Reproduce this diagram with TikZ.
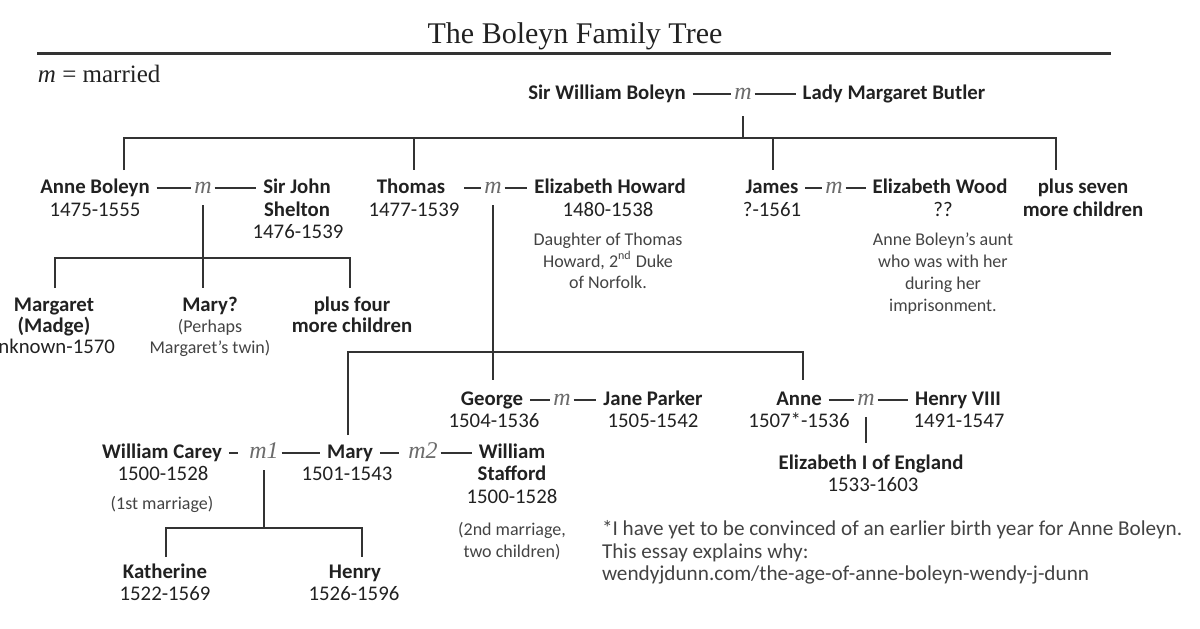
\documentclass[tikz,border=0pt]{standalone}
\usepackage{fontspec}
\setmainfont{Carlito}
\newfontfamily\serifont{Liberation Serif}
\usepackage{tikz}
\usetikzlibrary{positioning}
\definecolor{ink}{gray}{0.13}
\definecolor{wire}{gray}{0.2}
\definecolor{wedgray}{gray}{0.42}
\tikzset{
  every picture/.style = {
    line width = 1pt,
    draw = wire,
  }
  , % people on the tree
  person/.style = {
    anchor = base,
    font = \fontsize{10.4}{12}\selectfont\bfseries,
    text = ink,
    text height = 7.5pt,
    text depth = 2.5pt,
    inner xsep = 3pt,
    inner ysep = 1pt
  }
  , % life dates
  years/.style = {
    person,
    font = \fontsize{10.4}{12}\selectfont
  }
  , % small notes under a person
  remark/.style = {
    anchor = base,
    font = \fontsize{9}{11}\selectfont,
    text = ink!85,
    inner sep = 0pt
  }
  , % footnote lines
  footline/.style = {
    remark,
    anchor = base west,
    font = \fontsize{10.6}{12.5}\selectfont
  }
  , % the italic m between two partners
  wed/.style = {
    anchor = base,
    font = \serifont\itshape\fontsize{12}{14}\selectfont,
    text = wedgray,
    text height = 7.5pt,
    text depth = 2.5pt,
    inner xsep = 1pt,
    inner ysep = 3pt
  }
  , % dash between partners
  wedline/.style = {
    draw = wire,
    line width = 0.7pt
  }
  , % lines down to the children
  descent/.style = {
    draw = wire,
    line width = 1pt
  }
}

\begin{document}
\begin{tikzpicture}[x=0.5pt, y=-0.5pt]
		\useasboundingbox (0,0) rectangle (1200,628);
		% heading
		\node at (575,43) [anchor=base, font=\serifont\fontsize{15}{18}\selectfont, text=ink] (title) {The Boleyn Family Tree};
		\coordinate (ruleL) at (37,53);
		\coordinate (ruleR) at (1111,53);
		\draw [line width=1.5pt] (ruleL) -- (ruleR);
		\node at (37,82) [anchor=base west, inner sep=0pt, font=\serifont\fontsize{12.5}{14}\selectfont, text=ink] (key) {\textit{m} = married};

		% generation 0
		\node at (607,99) [person] (sirw) {Sir William Boleyn};
		\node at (743,99) [wed] (m0) {m};
		\node at (894,99) [person] (lady) {Lady Margaret Butler};

		% generation 1
		\node at (95,193) [person] (anneb) {Anne Boleyn};
		\node at (95,216) [years] (anneb-y) {1475-1555};
		\node at (203,193) [wed] (mA) {m};
		\node at (297,193) [person] (shelton) {Sir John};
		\node at (297,216) [person] (shelton-2) {Shelton};
		\node at (298,238) [years] (shelton-y) {1476-1539};
		\node at (411,193) [person] (thomas) {Thomas};
		\node at (414,216) [years] (thomas-y) {1477-1539};
		\node at (493,193) [wed] (mT) {m};
		\node at (610,193) [person] (howard) {Elizabeth Howard};
		\node at (608,216) [years] (howard-y) {1480-1538};
		\node at (608,245) [remark] (howard-n1) {Daughter of Thomas};
		\node at (608,267) [remark] (howard-n2) {Howard, 2\textsuperscript{nd} Duke};
		\node at (608,288) [remark] (howard-n3) {of Norfolk.};
		\node at (772,193) [person] (james) {James};
		\node at (772,216) [years] (james-y) {?-1561};
		\node at (834,193) [wed] (mJ) {m};
		\node at (940,193) [person] (wood) {Elizabeth Wood};
		\node at (943,216) [years] (wood-y) {??};
		\node at (943,245) [remark] (wood-n1) {Anne Boleyn's aunt};
		\node at (943,267) [remark] (wood-n2) {who was with her};
		\node at (943,289) [remark] (wood-n3) {during her};
		\node at (943,311) [remark] (wood-n4) {imprisonment.};
		\node at (1083,193) [person] (plus7) {plus seven};
		\node at (1083,216) [person] (plus7-2) {more children};

		% children of Anne Boleyn and Sir John Shelton
		\node at (54,311) [person] (margaret) {Margaret};
		\node at (54,332) [person] (margaret-2) {(Madge)};
		\node at (50,353) [years] (margaret-y) {Unknown-1570};
		\node at (210,311) [person] (maryq) {Mary?};
		\node at (210,332) [remark] (maryq-n1) {(Perhaps};
		\node at (210,353) [remark] (maryq-n2) {Margaret's twin)};
		\node at (352,311) [person] (plus4) {plus four};
		\node at (352,332) [person] (plus4-2) {more children};

		% children of Thomas and Elizabeth Howard
		\node at (492,405) [person] (george) {George};
		\node at (494,427) [years] (george-y) {1504-1536};
		\node at (562,405) [wed] (mG) {m};
		\node at (653,405) [person] (jane) {Jane Parker};
		\node at (653,427) [years] (jane-y) {1505-1542};
		\node at (799,405) [person] (anne) {Anne};
		\node at (799,427) [years] (anne-y) {1507*-1536};
		\node at (866,405) [wed] (mH) {m};
		\node at (958,405) [person] (henry8) {Henry VIII};
		\node at (959,427) [years] (henry8-y) {1491-1547};
		\node at (871,469) [person] (eliz) {Elizabeth I of England};
		\node at (873,491) [years] (eliz-y) {1533-1603};

		\node at (162,458) [person] (carey) {William Carey};
		\node at (163,480) [years] (carey-y) {1500-1528};
		\node at (162,509) [remark] (carey-n) {(1st marriage)};
		\node at (264,458) [wed] (m1) {m1};
		\node at (350,458) [person] (mary) {Mary};
		\node at (347,480) [years] (mary-y) {1501-1543};
		\node at (423,458) [wed] (m2) {m2};
		\node at (512,458) [person] (stafford) {William};
		\node at (512,480) [person] (stafford-2) {Stafford};
		\node at (512,503) [years] (stafford-y) {1500-1528};
		\node at (512,535) [remark] (stafford-n1) {(2nd marriage,};
		\node at (512,557) [remark] (stafford-n2) {two children)};

		% children of Mary and William Carey
		\node at (165,578) [person] (katherine) {Katherine};
		\node at (165,600) [years] (katherine-y) {1522-1569};
		\node at (355,578) [person] (henry) {Henry};
		\node at (354,600) [years] (henry-y) {1526-1596};

		% footnote
		\node at (601,535) [footline] (foot1) {*I have yet to be convinced of an earlier birth year for Anne Boleyn.};
		\node at (601,558) [footline] (foot2) {This essay explains why:};
		\node at (601,580) [footline] (foot3) {wendyjdunn.com/the-age-of-anne-boleyn-wendy-j-dunn};

		% marriages
		\path (sirw) edge [wedline] (m0) (m0) edge [wedline] (lady);
		\path (anneb) edge [wedline] (mA) (mA) edge [wedline] (shelton);
		\path (thomas) edge [wedline, shorten <=6pt] (mT) (mT) edge [wedline] (howard);
		\path (james) edge [wedline] (mJ) (mJ) edge [wedline] (wood);
		\path (george) edge [wedline] (mG) (mG) edge [wedline] (jane);
		\path (anne) edge [wedline] (mH) (mH) edge [wedline] (henry8);
		\path (carey) edge [wedline, shorten >=4pt] (m1) (m1) edge [wedline] (mary);
		\path (mary) edge [wedline, shorten >=3pt] (m2) (m2) edge [wedline] (stafford);

		% descent lines
		\coordinate (bar0) at (744,138);
		\coordinate (d-anneb) at (124,170);
		\coordinate (d-thomas) at (414,170);
		\coordinate (d-james) at (773,170);
		\coordinate (d-plus7) at (1056,170);
		\draw [descent, shorten <=2.5pt] (m0.south) -- (m0.south |- bar0);
		\draw [descent] (d-anneb) -- (d-anneb |- bar0) -- (d-plus7 |- bar0) -- (d-plus7);
		\draw [descent] (d-thomas |- bar0) -- (d-thomas);
		\draw [descent] (d-james |- bar0) -- (d-james);

		\coordinate (bar1) at (203,258);
		\coordinate (d-margaret) at (55,288);
		\coordinate (d-maryq) at (203,288);
		\coordinate (d-plus4) at (350,288);
		\draw [descent] (mA.south) -- (mA.south |- d-maryq);
		\draw [descent] (d-margaret) -- (d-margaret |- bar1) -- (d-plus4 |- bar1) -- (d-plus4);

		\coordinate (bar2) at (494,352);
		\coordinate (d-george) at (494,380);
		\coordinate (d-mary) at (348,435);
		\coordinate (d-anne) at (803,380);
		\draw [descent] (mT.south) -- (mT.south |- d-george);
		\draw [descent] (d-mary) -- (d-mary |- bar2) -- (d-anne |- bar2) -- (d-anne);

		\coordinate (d-eliz) at (866,443);
		\draw [descent] (mH.south) -- (mH.south |- d-eliz);

		\coordinate (bar3) at (264,528);
		\coordinate (d-katherine) at (166,557);
		\coordinate (d-henry) at (362,557);
		\draw [descent] (m1.south) -- (m1.south |- bar3);
		\draw [descent] (d-katherine) -- (d-katherine |- bar3) -- (d-henry |- bar3) -- (d-henry);
\end{tikzpicture}
\end{document}
